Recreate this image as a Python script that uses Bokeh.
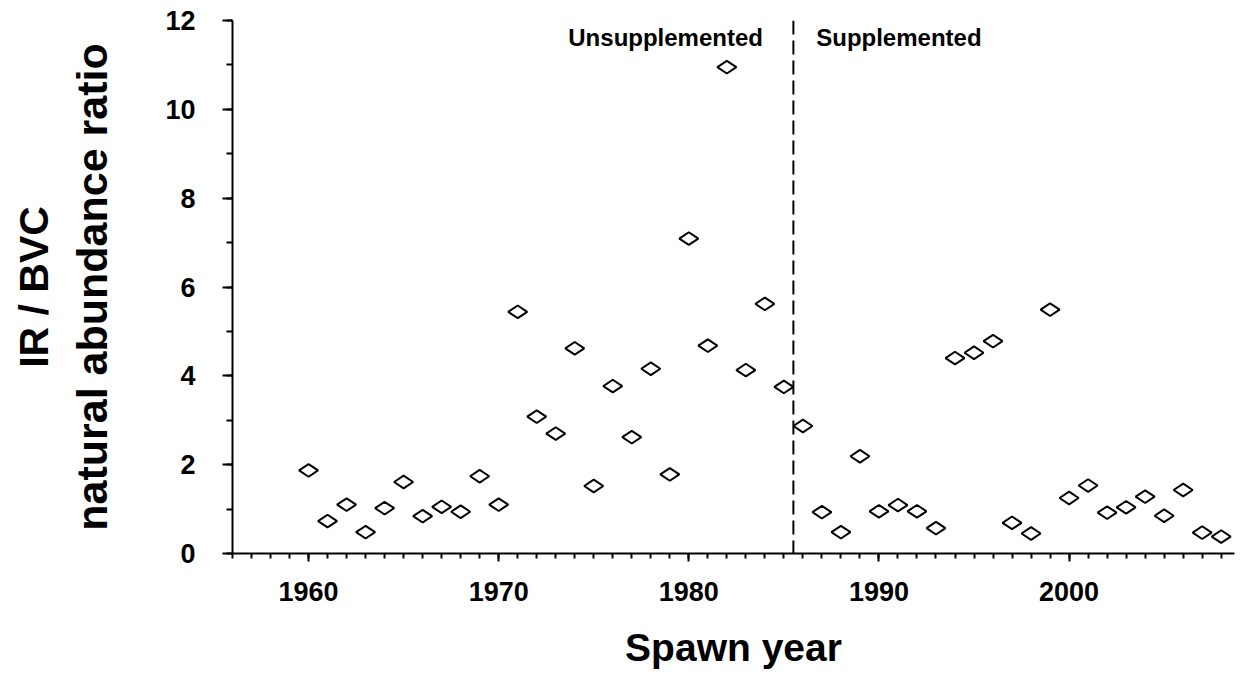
import math
from bokeh.plotting import figure
from bokeh.models import (SingleIntervalTicker, Span, Label, Title, Range1d, ColumnDataSource)
from bokeh.embed import file_html
from bokeh.resources import INLINE

# ---- data ----
years = list(range(1960, 2009))
ratio = [1.87, 0.73, 1.10, 0.48, 1.02, 1.61, 0.84, 1.05, 0.94, 1.74,
         1.10, 5.44, 3.08, 2.70, 4.62, 1.52, 3.77, 2.62, 4.16, 1.78,
         7.09, 4.68, 10.95, 4.13, 5.62, 3.75, 2.87, 0.93, 0.48, 2.19,
         0.95, 1.09, 0.95, 0.57, 4.40, 4.52, 4.78, 0.69, 0.45, 5.49,
         1.25, 1.53, 0.92, 1.04, 1.28, 0.85, 1.43, 0.47, 0.38]
split_year = 1985.5
period_labels = ["Unsupplemented", "Supplemented"]
x_title = "Spawn year"
y_title_1 = "IR / BVC"
y_title_2 = "natural abundance ratio"

FONT = "Liberation Sans"

p = figure(width=1236, height=677, output_backend="svg", toolbar_location=None,
           x_range=Range1d(1956, 2008.7), y_range=Range1d(0, 12),
           min_border_left=10, min_border_top=20, min_border_right=2,
           min_border_bottom=124)
p.outline_line_color = None
p.grid.visible = False
p.background_fill_color = "white"
p.border_fill_color = "white"

src = ColumnDataSource(dict(x=years, y=ratio))
p.scatter("x", "y", source=src, marker="diamond", size=19, angle=math.pi / 2,
          fill_color=None, line_color="black", line_width=2)

p.add_layout(Span(location=split_year, dimension="height", line_color="black",
                  line_width=2, line_dash="14 6"))

# axes
xa = p.xaxis[0]
xa.ticker = SingleIntervalTicker(interval=10, num_minor_ticks=10)
ya = p.yaxis[0]
ya.ticker = SingleIntervalTicker(interval=2, num_minor_ticks=2)
for ax in (xa, ya):
    ax.axis_line_width = 2
    ax.major_tick_line_width = 2
    ax.minor_tick_line_width = 2
    ax.axis_line_color = "black"
    ax.major_tick_line_color = "black"
    ax.minor_tick_line_color = "black"
    ax.major_tick_in = 0
    ax.minor_tick_in = 0
    ax.major_label_text_font = FONT
    ax.major_label_text_font_style = "bold"
    ax.major_label_text_font_size = "27px"
    ax.major_label_text_color = "black"
    ax.axis_label_text_font = FONT
    ax.axis_label_text_font_style = "bold"
    ax.axis_label_text_color = "black"

xa.major_tick_out = 8
xa.minor_tick_out = 5
xa.major_label_standoff = 20
xa.axis_label = x_title
xa.axis_label_text_font_size = "39px"
xa.axis_label_standoff = 22

ya.major_tick_out = 10
ya.minor_tick_out = 6
ya.major_label_standoff = 27
ya.axis_label = y_title_2
ya.axis_label_text_font_size = "43px"
ya.axis_label_standoff = 46

p.add_layout(Title(text=y_title_1, align="center", text_font=FONT,
                   text_font_style="bold", text_font_size="41px",
                   text_color="black", standoff=17), "left")

# period annotations
p.add_layout(Label(x=split_year - 1.6, y=11.62, text=period_labels[0],
                   text_align="right", text_baseline="alphabetic",
                   text_font=FONT, text_font_style="bold",
                   text_font_size="24px", text_color="black"))
p.add_layout(Label(x=split_year + 1.2, y=11.62, text=period_labels[1],
                   text_align="left", text_baseline="alphabetic",
                   text_font=FONT, text_font_style="bold",
                   text_font_size="24px", text_color="black"))

open("out.html", "w").write(file_html(p, INLINE))
